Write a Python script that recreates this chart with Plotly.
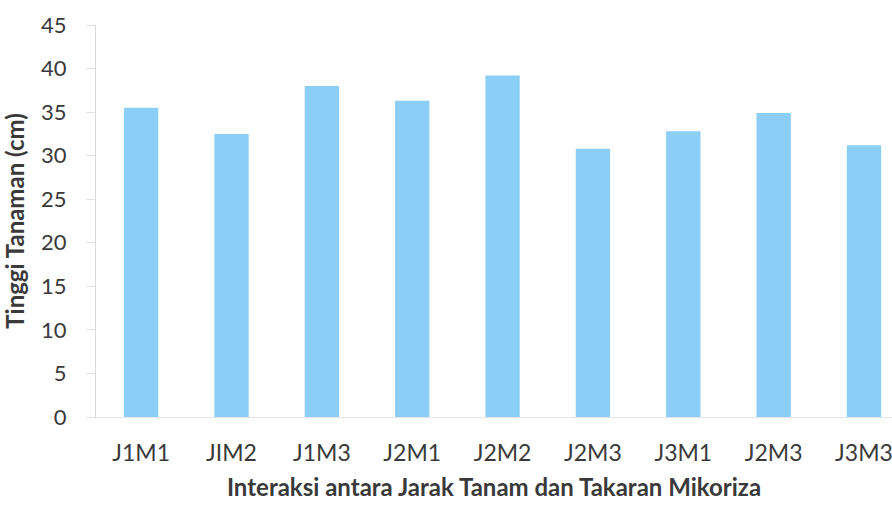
import plotly.graph_objects as go

# Plant height per treatment combination
categories = ["J1M1", "JIM2", "J1M3", "J2M1", "J2M2", "J2M3", "J3M1", "J2M3 ", "J3M3"]
tick_text = ["J1M1", "JIM2", "J1M3", "J2M1", "J2M2", "J2M3", "J3M1", "J2M3", "J3M3"]
heights = [35.5, 32.5, 38.0, 36.3, 39.2, 30.8, 32.8, 34.9, 31.2]
y_ticks = [0, 5, 10, 15, 20, 25, 30, 35, 40, 45]

font_family = "Lato, 'Open Sans', sans-serif"
text_color = "#3a3a3a"

fig = go.Figure(
    go.Bar(
        x=list(range(len(categories))),
        y=heights,
        marker=dict(color="#8ccff6", line=dict(width=0)),
        hoverinfo="y",
    )
)

fig.update_layout(
    width=892,
    height=506,
    margin=dict(l=96, r=0, t=25, b=89),
    paper_bgcolor="white",
    plot_bgcolor="white",
    bargap=0.62,
    showlegend=False,
    font=dict(family=font_family, color=text_color),
)

fig.update_xaxes(
    tickmode="array",
    tickvals=list(range(len(categories))),
    ticktext=tick_text,
    range=[-0.5, 8.31],
    tickfont=dict(size=23, color=text_color),
    ticklabelstandoff=15,
    ticklabeloverflow="allow",
    showgrid=False,
    showline=True,
    linecolor="#e4e4e4",
    linewidth=1,
    ticks="",
    title=dict(
        text="<b>Interaksi antara Jarak Tanam dan Takaran Mikoriza</b>",
        font=dict(size=24, color=text_color),
        standoff=14,
    ),
    zeroline=False,
)

fig.update_yaxes(
    tickmode="array",
    tickvals=y_ticks,
    range=[0, 45],
    tickfont=dict(size=22, color=text_color),
    ticklabelstandoff=15,
    showgrid=False,
    showline=True,
    linecolor="#d8d8d8",
    linewidth=1,
    ticks="outside",
    ticklen=9,
    tickcolor="#e0e0e0",
    zeroline=False,
    title=dict(
        text="<b>Tinggi Tanaman (cm)</b>",
        font=dict(size=24, color=text_color),
        standoff=9,
    ),
)

fig.write_html("out.html")
